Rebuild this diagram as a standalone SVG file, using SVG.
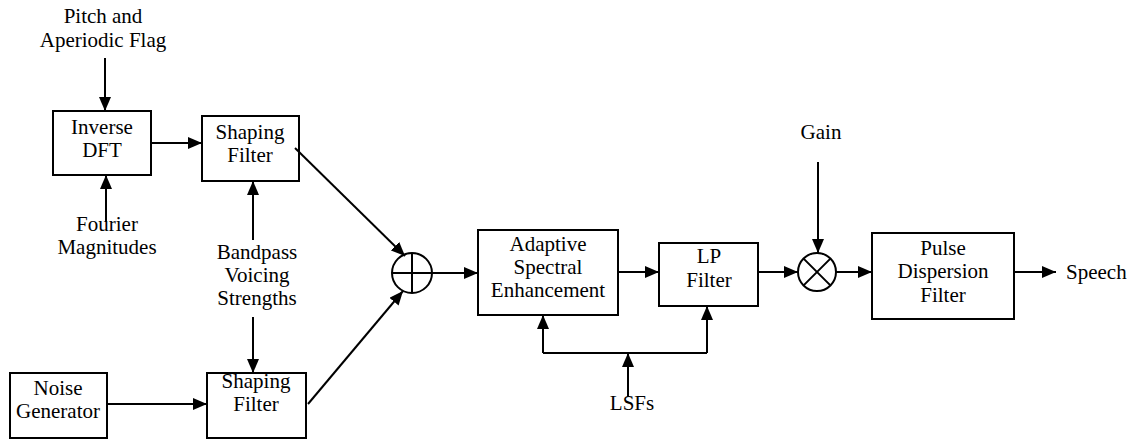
<svg xmlns="http://www.w3.org/2000/svg" width="1133" height="440" viewBox="0 0 1133 440">
  <style>
    .box { fill: #fff; stroke: #000; stroke-width: 2; }
    .lbl { font-family: 'Liberation Serif', 'Times New Roman', serif; font-size: 21px; fill: #000; text-anchor: middle; }
    .wire { fill: none; stroke: #000; stroke-width: 2; }
    .arr { marker-end: url(#head); }
    .ring { fill: #fff; stroke: #000; stroke-width: 2; }
  </style>
  <defs>
    <marker id="head" viewBox="0 0 14 12" refX="14" refY="6" markerWidth="14" markerHeight="12" markerUnits="userSpaceOnUse" orient="auto">
      <path d="M0,0 L14,6 L0,12 Z" fill="#000"/>
    </marker>
  </defs>
  <rect width="1133" height="440" fill="#fff"/>

  <!-- input labels -->
  <g id="pitch-label">
    <text class="lbl" x="103" y="23">Pitch and</text>
    <text class="lbl" x="103" y="47">Aperiodic Flag</text>
  </g>
  <g id="fourier-label">
    <text class="lbl" x="107" y="231">Fourier</text>
    <text class="lbl" x="107" y="254">Magnitudes</text>
  </g>
  <g id="voicing-label">
    <text class="lbl" x="257" y="259">Bandpass</text>
    <text class="lbl" x="257" y="282">Voicing</text>
    <text class="lbl" x="257" y="305">Strengths</text>
  </g>
  <g id="gain-label">
    <text class="lbl" x="821" y="139">Gain</text>
  </g>
  <g id="lsf-label">
    <text class="lbl" x="632" y="410">LSFs</text>
  </g>
  <g id="speech-label">
    <text class="lbl" x="1066" y="279" style="text-anchor:start">Speech</text>
  </g>

  <!-- processing blocks -->
  <g id="inverse-dft">
    <rect class="box" x="53" y="111" width="98" height="64"/>
    <text class="lbl" x="102" y="134">Inverse</text>
    <text class="lbl" x="102" y="157">DFT</text>
  </g>
  <g id="shaping-filter-pulse">
    <rect class="box" x="202" y="116" width="97" height="65"/>
    <text class="lbl" x="250" y="139">Shaping</text>
    <text class="lbl" x="250" y="162">Filter</text>
  </g>
  <g id="noise-generator">
    <rect class="box" x="10" y="373" width="97" height="65"/>
    <text class="lbl" x="58" y="395">Noise</text>
    <text class="lbl" x="58" y="418">Generator</text>
  </g>
  <g id="shaping-filter-noise">
    <rect class="box" x="207" y="373" width="99" height="65"/>
    <text class="lbl" x="256" y="388">Shaping</text>
    <text class="lbl" x="256" y="411">Filter</text>
  </g>
  <g id="adder">
    <circle class="ring" cx="412" cy="273" r="20"/>
    <path class="wire" d="M392,273 H432 M412,253 V293"/>
  </g>
  <g id="adaptive-enhancement">
    <rect class="box" x="478" y="230" width="140" height="85"/>
    <text class="lbl" x="548" y="251">Adaptive</text>
    <text class="lbl" x="548" y="274">Spectral</text>
    <text class="lbl" x="548" y="297">Enhancement</text>
  </g>
  <g id="lp-filter">
    <rect class="box" x="659" y="243" width="99" height="63"/>
    <text class="lbl" x="709" y="263">LP</text>
    <text class="lbl" x="709" y="287">Filter</text>
  </g>
  <g id="multiplier">
    <circle class="ring" cx="817" cy="272" r="19"/>
    <path class="wire" d="M803.6,258.6 L830.4,285.4 M830.4,258.6 L803.6,285.4"/>
  </g>
  <g id="pulse-dispersion">
    <rect class="box" x="872" y="233" width="142" height="86"/>
    <text class="lbl" x="943" y="255">Pulse</text>
    <text class="lbl" x="943" y="278">Dispersion</text>
    <text class="lbl" x="943" y="302">Filter</text>
  </g>

  <!-- signal connections -->
  <g id="connectors">
    <line class="wire arr" x1="105" y1="58" x2="105" y2="111"/>
    <line class="wire arr" x1="106" y1="222" x2="106" y2="175"/>
    <line class="wire arr" x1="151" y1="143" x2="202" y2="143"/>
    <line class="wire arr" x1="253" y1="240" x2="253" y2="181"/>
    <line class="wire arr" x1="253" y1="317" x2="253" y2="373"/>
    <line class="wire arr" x1="107" y1="404" x2="207" y2="404"/>
    <line class="wire arr" x1="295" y1="148" x2="405" y2="256"/>
    <line class="wire arr" x1="308" y1="404" x2="403" y2="291"/>
    <line class="wire arr" x1="432" y1="273" x2="478" y2="273"/>
    <line class="wire arr" x1="618" y1="272" x2="659" y2="272"/>
    <line class="wire arr" x1="758" y1="272" x2="798" y2="272"/>
    <line class="wire arr" x1="818" y1="162" x2="818" y2="253"/>
    <line class="wire arr" x1="836" y1="272" x2="872" y2="272"/>
    <line class="wire arr" x1="1014" y1="272" x2="1056" y2="272"/>
    <polyline class="wire arr" points="543,353 543,315"/>
    <polyline class="wire" points="543,353 707,353"/>
    <polyline class="wire arr" points="707,353 707,306"/>
    <line class="wire arr" x1="628" y1="397" x2="628" y2="353"/>
  </g>
</svg>
